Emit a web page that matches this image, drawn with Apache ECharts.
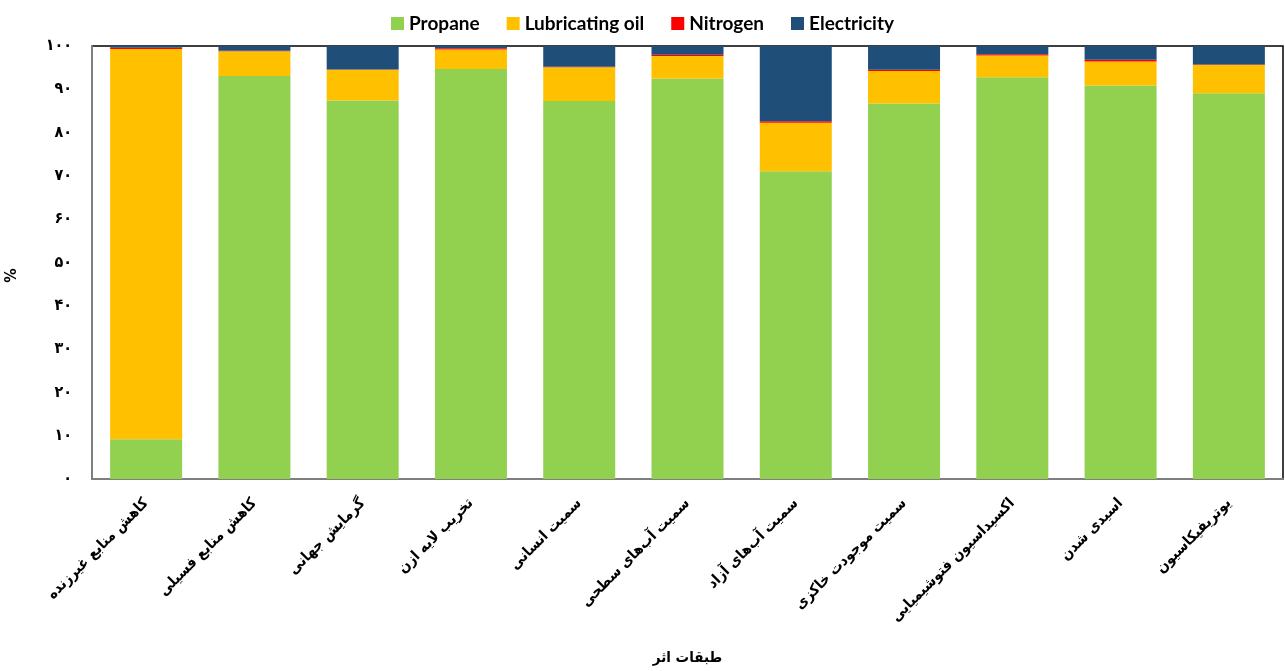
<!DOCTYPE html>
<html>
<head>
<meta charset="utf-8">
<script src="https://cdn.jsdelivr.net/npm/echarts@6/dist/echarts.min.js"></script>
<style>html,body{margin:0;padding:0;background:#fff}#c{width:1285px;height:671px}</style>
</head>
<body>
<div id="c"></div>
<script>
var categories = ['کاهش منابع غیرزنده','کاهش منابع فسیلی','گرمایش جهانی','تخریب لایه ازن','سمیت انسانی','سمیت آب‌های سطحی','سمیت آب‌های آزاد','سمیت موجودت خاکزی','اکسیداسیون فتوشیمیایی','اسیدی شدن','یوتریفیکاسیون'];
var propane     = [9.2, 93.1, 87.4, 94.7, 87.3, 92.5, 71.1, 86.7, 92.8, 90.9, 89.1];
var lubricating = [90.1, 5.7, 7.1, 4.5, 7.8, 5.2, 11.2, 7.5, 5.0, 5.5, 6.5];
var nitrogen    = [0.3, 0.1, 0.1, 0.3, 0.1, 0.3, 0.3, 0.3, 0.3, 0.4, 0.1];
var electricity = [0.4, 1.1, 5.4, 0.5, 4.8, 2.0, 17.4, 5.5, 1.9, 3.2, 4.3];
var yTickLabels = ['۰','۱۰','۲۰','۳۰','۴۰','۵۰','۶۰','۷۰','۸۰','۹۰','۱۰۰'];
var seriesNames = ['Propane','Lubricating oil','Nitrogen','Electricity'];

var colors = ['#92D050','#FFC000','#FF0000','#1F4E79'];
var dataSets = [propane, lubricating, nitrogen, electricity];
var arFont = '"DejaVu Sans Condensed", "DejaVu Sans"';
var chart = echarts.init(document.getElementById('c'));
chart.setOption({
  animation: false,
  color: colors,
  legend: {
    top: 9, left: 'center', itemWidth: 13, itemHeight: 13, itemGap: 27,
    icon: 'rect',
    textStyle: {fontFamily: 'Lato, "DejaVu Sans"', fontWeight: 'bold', fontSize: 19, color: '#000'},
    data: seriesNames
  },
  grid: {left: 92, right: 2, top: 46, bottom: 192, outerBoundsMode: 'none', containLabel: false, show: true, borderColor: '#000', borderWidth: 1.5},
  xAxis: {
    type: 'category', data: categories,
    name: 'طبقات اثر', nameLocation: 'middle', nameGap: 172,
    nameTextStyle: {fontFamily: arFont, fontWeight: 'bold', fontSize: 15, color: '#000'},
    axisLine: {lineStyle: {color: '#7f7f7f', width: 2}},
    axisTick: {show: false},
    axisLabel: {rotate: 45, interval: 0, margin: 22, fontFamily: arFont, fontWeight: 'bold', fontSize: 15, color: '#000'}
  },
  yAxis: {
    type: 'value', min: 0, max: 100, interval: 10,
    name: '%', nameLocation: 'middle', nameGap: 72, nameRotate: 90,
    nameTextStyle: {fontFamily: arFont, fontWeight: 'bold', fontSize: 16, color: '#000', padding: [0, 0, 0, -26]},
    axisLine: {show: true, lineStyle: {color: '#7f7f7f', width: 2}},
    axisTick: {show: false},
    splitLine: {show: false},
    axisLabel: {margin: 20, fontFamily: arFont, fontWeight: 'bold', fontSize: 16, color: '#000',
      formatter: function (v) { return yTickLabels[Math.round(v / 10)]; }}
  },
  series: seriesNames.map(function (n, i) {
    return {name: n, type: 'bar', stack: 'total', barCategoryGap: '33.5%', data: dataSets[i], itemStyle: {color: colors[i]}};
  })
});
</script>
</body>
</html>
